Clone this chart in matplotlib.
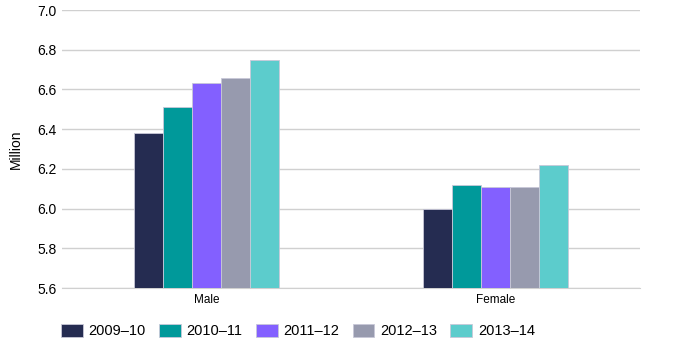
import numpy as np
import matplotlib.pyplot as plt

# data
categories = ['Male', 'Female']
years = ['2009–10', '2010–11', '2011–12', '2012–13', '2013–14']
values = [
    [6.38, 6.00],
    [6.51, 6.12],
    [6.63, 6.11],
    [6.66, 6.11],
    [6.75, 6.22],
]
colors = ['#252c51', '#00999a', '#8360ff', '#979aae', '#5ccccc']

plt.rcParams['font.family'] = ['Liberation Sans', 'DejaVu Sans']

fig = plt.figure(figsize=(6.89, 3.5), dpi=100)
ax = fig.add_axes([62/689, 1 - 288/350, 578/689, 278/350])

x = np.arange(len(categories))
w = 0.1
for i, (yr, vals) in enumerate(zip(years, values)):
    ax.bar(x + (i - 2) * w, vals, width=w, color=colors[i], label=yr,
           edgecolor='#c8c8d8', linewidth=0.6, zorder=3)

ax.set_xlim(-0.5, 1.5)
ax.set_ylim(5.6, 7.0)
ax.set_yticks(np.arange(5.6, 7.01, 0.2))
ax.set_yticklabels([f'{v:.1f}' for v in np.arange(5.6, 7.01, 0.2)], fontsize=10)
ax.set_xticks(x)
ax.set_xticklabels(categories, fontsize=8.5)
ax.tick_params(axis='both', length=0, pad=4)
ax.grid(axis='y', color='#d0d0d0', linewidth=1, zorder=0)
for s in ['top', 'right', 'left']:
    ax.spines[s].set_visible(False)
ax.spines['bottom'].set_color('#d0d0d0')
ax.set_ylabel('Million', fontsize=10, labelpad=10)

ax.legend(loc='upper left', bbox_to_anchor=(-0.012, -0.11), ncol=5, frameon=False,
          fontsize=10.5, handlelength=1.5, handleheight=0.9, columnspacing=0.9,
          handletextpad=0.4, borderaxespad=0)

fig.savefig('out.png', dpi=100)
